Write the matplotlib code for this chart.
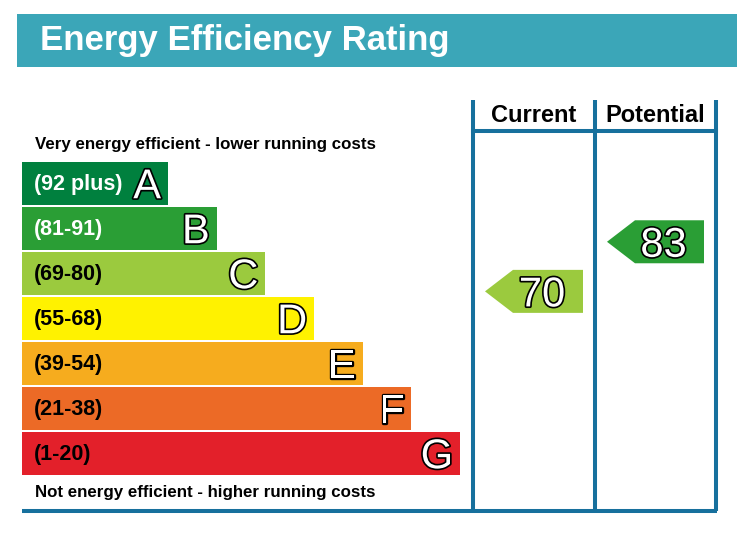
import matplotlib.pyplot as plt
from matplotlib.patches import Polygon, Rectangle
import matplotlib.patheffects as pe

plt.rcParams['font.family'] = ['Liberation Sans', 'DejaVu Sans']

# EPC bands, best to worst
letters = ["A", "B", "C", "D", "E", "F", "G"]
ranges = ["(92 plus)", "(81-91)", "(69-80)", "(55-68)", "(39-54)", "(21-38)", "(1-20)"]
band_lo = [92, 81, 69, 55, 39, 21, 1]
band_hi = [100, 91, 80, 68, 54, 38, 20]
colors = ["#00803e", "#2a9e35", "#9bca3e", "#fff200", "#f6ac1e", "#ec6a26", "#e3202a"]
label_colors = ["white", "white", "black", "black", "black", "black", "black"]

current = 70
potential = 83

line_col = "#17709d"
banner_col = "#3ba6b8"

fig = plt.figure(figsize=(7.37, 5.33), dpi=100)
ax = fig.add_axes([0, 0, 1, 1])
ax.set_xlim(0, 737)
ax.set_ylim(533, 0)
ax.axis("off")

# banner
ax.add_patch(Rectangle((17, 14), 720, 53, color=banner_col, lw=0))
ax.text(40, 50, "Energy Efficiency Rating", color="white", fontsize=25,
        fontweight="bold", va="baseline", ha="left")

# bands
left = 22
top0 = 162
pitch = 45
bar_h = 42.5
tops = [top0 + pitch * i for i in range(len(letters))]
ends = [168 + 48.7 * i for i in range(len(letters))]
ax.barh([t + bar_h / 2 for t in tops], [e - left for e in ends], left=left,
        height=bar_h, color=colors, lw=0)

outline = [pe.withStroke(linewidth=2.4, foreground="black")]
for i in range(len(letters)):
    yc = tops[i] + bar_h / 2
    ax.text(34, yc + 7, ranges[i], color=label_colors[i], fontsize=15.5,
            fontweight="bold", va="baseline", ha="left")
    ax.text(ends[i] - 7, yc + 15, letters[i], color="white", fontsize=30,
            va="baseline", ha="right", path_effects=outline)

ax.text(35, 149, "Very energy efficient - lower running costs", fontsize=12.2,
        fontweight="bold", va="baseline", ha="left")
ax.text(35, 497, "Not energy efficient - higher running costs", fontsize=12.2,
        fontweight="bold", va="baseline", ha="left")

# columns
col_x = [473, 595, 716]
lw = 2.9
for x in col_x:
    ax.plot([x, x], [100, 511], color=line_col, lw=lw, solid_capstyle="butt")
ax.plot([col_x[0], col_x[2]], [131, 131], color=line_col, lw=lw)
ax.plot([left, col_x[2] + 1.5], [511, 511], color=line_col, lw=lw, solid_capstyle="butt")
ax.text((col_x[0] + col_x[1]) / 2, 122, "Current", fontsize=17, fontweight="bold",
        ha="center", va="baseline")
ax.text((col_x[1] + col_x[2]) / 2, 122, "Potential", fontsize=17, fontweight="bold",
        ha="center", va="baseline")


def band_of(v):
    for i in range(len(letters)):
        if band_lo[i] <= v <= band_hi[i]:
            return i
    return len(letters) - 1


def draw_arrow(v, x0, x1):
    i = band_of(v)
    frac = (band_hi[i] - v + 0.5) / (band_hi[i] - band_lo[i] + 1)
    yc = tops[i] + frac * pitch
    h = 43
    tip = 28
    xl = x0 + 12
    xr = x1 - 12
    pts = [(xl, yc), (xl + tip, yc - h / 2), (xr, yc - h / 2),
           (xr, yc + h / 2), (xl + tip, yc + h / 2)]
    ax.add_patch(Polygon(pts, closed=True, color=colors[i], lw=0))
    ax.text((xl + xr) / 2 + 8, yc + 15, str(v), color="white", fontsize=30,
            ha="center", va="baseline", path_effects=outline)


draw_arrow(current, col_x[0], col_x[1])
draw_arrow(potential, col_x[1], col_x[2])

fig.savefig("out.png", dpi=100)
